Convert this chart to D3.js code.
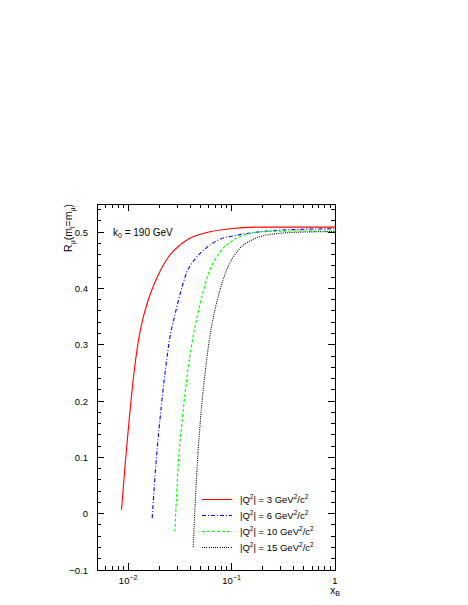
<!DOCTYPE html>
<html>
<head>
<meta charset="utf-8">
<script src="https://cdn.jsdelivr.net/npm/d3@7"></script>
<style>
body { margin: 0; background: #fff; }
text { font-family: "Liberation Sans", Arial, Helvetica, sans-serif; fill: #000; }
</style>
</head>
<body>
<div id="chartContainer"></div>
<script>
// curves: x_B and R_mu for each |Q^2|
var q2Values = [3, 6, 10, 15],
    seriesColors = ['#ff0000', '#0000ff', '#00ff00', '#000000'],
    seriesDash = [null, '4,2,1,2', '3,2', '1,1.2'];

var xQ3 = [0.00863, 0.00935, 0.01022, 0.01148, 0.01284, 0.01419, 0.01622, 0.01952, 0.02533, 0.03166, 0.03957, 0.05526, 0.0965, 0.2014, 1],
    yQ3 = [0.007, 0.087, 0.166, 0.255, 0.317, 0.353, 0.388, 0.424, 0.4595, 0.477, 0.489, 0.4985, 0.506, 0.509, 0.509];
var xQ6 = [0.01707, 0.01853, 0.02027, 0.02291, 0.02533, 0.02832, 0.03201, 0.03675, 0.04422, 0.05526, 0.07434, 0.1161, 0.1956, 0.4594, 1],
    yQ6 = [-0.008, 0.0865, 0.166, 0.255, 0.313, 0.353, 0.392, 0.428, 0.452, 0.470, 0.486, 0.495, 0.501, 0.505, 0.506];
var xQ10 = [0.02832, 0.03048, 0.03332, 0.03784, 0.04277, 0.04727, 0.05285, 0.06041, 0.07468, 0.1039, 0.1348, 0.2105, 0.4594, 1],
    yQ10 = [-0.032, 0.0865, 0.166, 0.255, 0.318, 0.356, 0.393, 0.428, 0.461, 0.486, 0.495, 0.501, 0.502, 0.502];
var xQ15 = [0.04257, 0.04656, 0.05, 0.05588, 0.06318, 0.06908, 0.07721, 0.08965, 0.1161, 0.1565, 0.2187, 0.4594, 1],
    yQ15 = [-0.059, 0.0865, 0.166, 0.255, 0.326, 0.362, 0.397, 0.433, 0.468, 0.486, 0.495, 0.500, 0.501];

var xMajorTicks = [0.01, 0.1, 1],
    xTickBase = ['10', '10', '1'],
    xTickExp = ['\u22122', '\u22121', ''],
    yMajorTicks = [-0.1, 0, 0.1, 0.2, 0.3, 0.4, 0.5],
    yTickLabels = ['\u22120.1', '0', '0.1', '0.2', '0.3', '0.4', '0.5'];

(function drawChart() {
    var width = 468,
        height = 605,
        fLeft = 97, fRight = 335, fTop = 204, fBottom = 570,
        svg = d3.select('#chartContainer').append('svg')
            .attr('width', width)
            .attr('height', height);

    var x = d3.scaleLog().domain([0.005, 1]).range([fLeft, fRight]),
        y = d3.scaleLinear().domain([-0.1, 0.55]).range([fBottom, fTop]);

    var series = [[xQ3, yQ3], [xQ6, yQ6], [xQ10, yQ10], [xQ15, yQ15]].map(function (s, i) {
        return {
            q2: q2Values[i],
            color: seriesColors[i],
            dash: seriesDash[i],
            points: s[0].map(function (v, j) { return [v, s[1][j]]; })
        };
    });

    var xMinor = [], yMinor = [], d, k, v;
    for (d = -3; d <= 0; d++) {
        for (k = 1; k <= 9; k++) {
            v = k * Math.pow(10, d);
            if (v >= 0.005 && v <= 1.0001) xMinor.push(v);
        }
    }
    for (v = -0.1; v <= 0.5401; v += 0.02) yMinor.push(+v.toFixed(2));

    function isMajorX(t) { return xMajorTicks.some(function (m) { return Math.abs(m - t) < 1e-9; }); }
    function isMajorY(t) { return yMajorTicks.some(function (m) { return Math.abs(m - t) < 1e-9; }); }

    // frame and ticks on all four sides
    var frame = svg.append('g')
        .attr('stroke', '#000')
        .attr('stroke-width', 1)
        .attr('shape-rendering', 'crispEdges');
    frame.append('rect')
        .attr('x', fLeft).attr('y', fTop)
        .attr('width', fRight - fLeft).attr('height', fBottom - fTop)
        .attr('fill', 'none');

    frame.selectAll('.xb').data(xMinor).enter().append('line')
        .attr('x1', function (t) { return x(t); }).attr('x2', function (t) { return x(t); })
        .attr('y1', fBottom).attr('y2', function (t) { return fBottom - (isMajorX(t) ? 7 : 4); });
    frame.selectAll('.xt').data(xMinor).enter().append('line')
        .attr('x1', function (t) { return x(t); }).attr('x2', function (t) { return x(t); })
        .attr('y1', fTop).attr('y2', function (t) { return fTop + (isMajorX(t) ? 7 : 4); });
    frame.selectAll('.yl').data(yMinor).enter().append('line')
        .attr('y1', function (t) { return y(t); }).attr('y2', function (t) { return y(t); })
        .attr('x1', fLeft).attr('x2', function (t) { return fLeft + (isMajorY(t) ? 7 : 4); });
    frame.selectAll('.yr').data(yMinor).enter().append('line')
        .attr('y1', function (t) { return y(t); }).attr('y2', function (t) { return y(t); })
        .attr('x1', fRight).attr('x2', function (t) { return fRight - (isMajorY(t) ? 7 : 4); });

    // tick labels
    svg.selectAll('.ylab').data(yMajorTicks).enter().append('text')
        .attr('x', fLeft - 9)
        .attr('y', function (t) { return y(t) + 3.5; })
        .attr('text-anchor', 'end')
        .style('font-size', '9.5px')
        .text(function (t, i) { return yTickLabels[i]; });

    var xl = svg.selectAll('.xlab').data(xMajorTicks).enter().append('text')
        .attr('x', function (t) { return x(t); })
        .attr('y', fBottom + 14)
        .attr('text-anchor', 'middle')
        .style('font-size', '9.5px');
    xl.append('tspan').text(function (t, i) { return xTickBase[i]; });
    xl.append('tspan').attr('dy', -4).style('font-size', '7px')
        .text(function (t, i) { return xTickExp[i]; });

    // axis titles
    var xt = svg.append('text')
        .attr('x', fRight + 5)
        .attr('y', fBottom + 24)
        .attr('text-anchor', 'end')
        .style('font-size', '10px');
    xt.append('tspan').text('x');
    xt.append('tspan').attr('dy', 2).style('font-size', '7px').text('B');

    var yt = svg.append('text')
        .attr('transform', 'translate(72,' + fTop + ') rotate(-90)')
        .attr('text-anchor', 'end')
        .style('font-size', '10.5px');
    yt.append('tspan').text('R');
    yt.append('tspan').attr('dy', 2.5).style('font-size', '7px').text('\u03bc');
    yt.append('tspan').attr('dy', -2.5).text('(m');
    yt.append('tspan').attr('dy', 2.5).style('font-size', '7px').text('l');
    yt.append('tspan').attr('dy', -2.5).text('=m');
    yt.append('tspan').attr('dy', 2.5).style('font-size', '7px').text('\u03bc');
    yt.append('tspan').attr('dy', -2.5).text(')');

    var kt = svg.append('text')
        .attr('x', 113)
        .attr('y', 236)
        .style('font-size', '10px');
    kt.append('tspan').text('k');
    kt.append('tspan').attr('dy', 2).style('font-size', '7px').text('0');
    kt.append('tspan').attr('dy', -2).text(' = 190 GeV');

    // curves
    var line = d3.line()
        .x(function (p) { return x(p[0]); })
        .y(function (p) { return y(p[1]); })
        .curve(d3.curveMonotoneX);

    svg.selectAll('.curve').data(series).enter().append('path')
        .attr('d', function (s) { return line(s.points); })
        .attr('fill', 'none')
        .attr('stroke', function (s) { return s.color; })
        .attr('stroke-width', 1.1)
        .attr('stroke-dasharray', function (s) { return s.dash; });

    // legend
    var legend = svg.selectAll('.legend').data(series).enter().append('g')
        .attr('transform', function (s, i) { return 'translate(202,' + (499.5 + i * 16) + ')'; });
    legend.append('line')
        .attr('x1', 0).attr('x2', 30)
        .attr('stroke', function (s) { return s.color; })
        .attr('stroke-width', 1)
        .attr('shape-rendering', 'crispEdges')
        .attr('stroke-dasharray', function (s) { return s.dash; });
    var lt = legend.append('text')
        .attr('x', 38)
        .attr('y', 3.5)
        .style('font-size', '9.5px');
    lt.append('tspan').text('|Q');
    lt.append('tspan').attr('dy', -4).style('font-size', '6.5px').text('2');
    lt.append('tspan').attr('dy', 4).text(function (s) { return '| = ' + s.q2 + ' GeV'; });
    lt.append('tspan').attr('dy', -4).style('font-size', '6.5px').text('2');
    lt.append('tspan').attr('dy', 4).text('/c');
    lt.append('tspan').attr('dy', -4).style('font-size', '6.5px').text('2');
})();
</script>
</body>
</html>
